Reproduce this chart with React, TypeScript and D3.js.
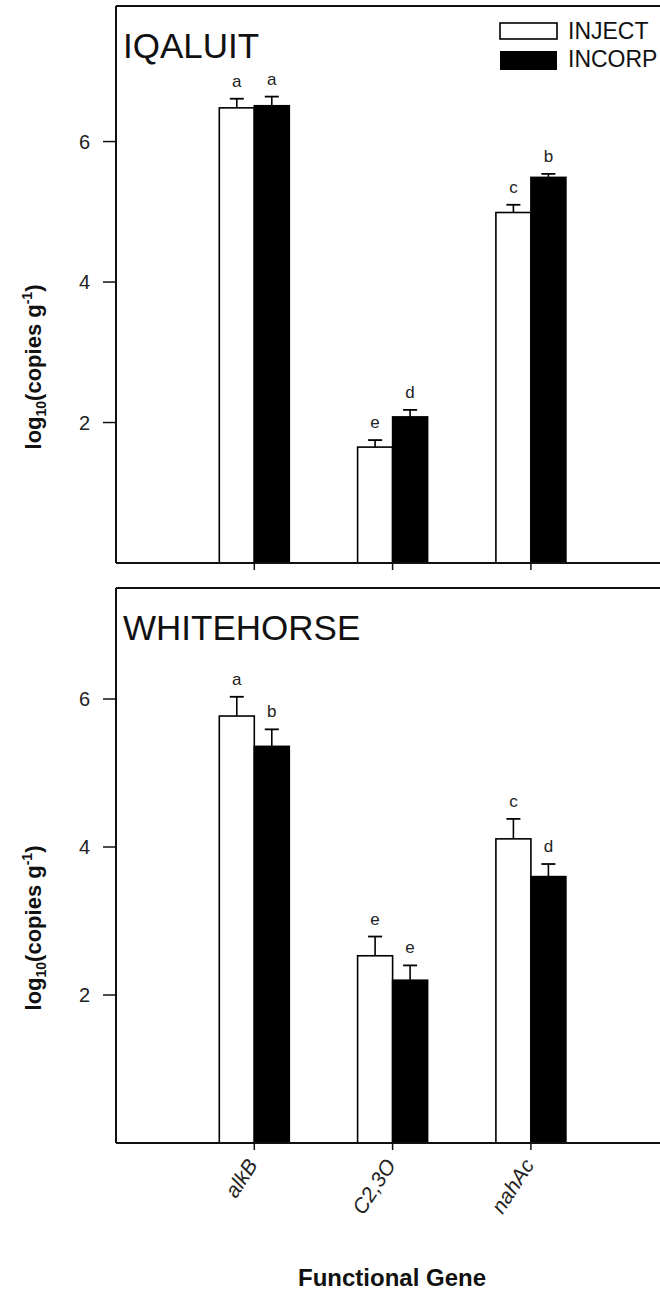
import React from "react";
import * as d3 from "d3";

// Functional genes on the x axis and the two treatments
const genes = ["alkB", "C2,3O", "nahAc"];
const treatments = ["INJECT", "INCORP"];
const yTicks = [2, 4, 6];

// IQALUIT site: log10(copies g-1), upper error and significance letters
const iqaluitInject = [6.48, 1.65, 4.99];
const iqaluitInjectErr = [0.13, 0.1, 0.11];
const iqaluitIncorp = [6.51, 2.08, 5.49];
const iqaluitIncorpErr = [0.13, 0.1, 0.05];
const iqaluitInjectLetters = ["a", "e", "c"];
const iqaluitIncorpLetters = ["a", "d", "b"];

// WHITEHORSE site
const whitehorseInject = [5.77, 2.53, 4.11];
const whitehorseInjectErr = [0.26, 0.26, 0.27];
const whitehorseIncorp = [5.36, 2.2, 3.6];
const whitehorseIncorpErr = [0.23, 0.2, 0.17];
const whitehorseInjectLetters = ["a", "e", "c"];
const whitehorseIncorpLetters = ["b", "e", "d"];

const FONT = "'Liberation Sans', Arial, Helvetica, sans-serif";
const W = 660;
const H = 1295;
const LEFT = 116;
const STEP = 138.3;
const BAR_W = 35;

const x = d3.scaleLinear().domain([0, 4]).range([LEFT, LEFT + 4 * STEP]);

type PanelProps = {
  title: string;
  top: number;
  bottom: number;
  yMax: number;
  inject: number[];
  injectErr: number[];
  incorp: number[];
  incorpErr: number[];
  injectLetters: string[];
  incorpLetters: string[];
  labelY: number;
  legend?: boolean;
};

function Panel(p: PanelProps) {
  const y = d3.scaleLinear().domain([0, p.yMax]).range([p.bottom, p.top]);
  const right = W + 20;
  const series = [
    { vals: p.inject, errs: p.injectErr, letters: p.injectLetters, fill: "#fff", off: -BAR_W },
    { vals: p.incorp, errs: p.incorpErr, letters: p.incorpLetters, fill: "#000", off: 0 },
  ];
  return (
    <g>
      {/* frame: top and left edges, x axis */}
      <line x1={LEFT} x2={right} y1={p.top} y2={p.top} stroke="#111" strokeWidth={2} />
      <line x1={LEFT} x2={LEFT} y1={p.top} y2={p.bottom} stroke="#111" strokeWidth={2} />
      {/* bars */}
      {series.map((s, si) =>
        s.vals.map((v, i) => {
          const cx = x(i + 1) + s.off;
          const yt = y(v);
          const ye = y(v + s.errs[i]);
          const mid = cx + BAR_W / 2;
          return (
            <g key={`${si}-${i}`}>
              <rect
                x={cx}
                y={yt}
                width={BAR_W}
                height={p.bottom - yt}
                fill={s.fill}
                stroke="#000"
                strokeWidth={1.6}
              />
              <line x1={mid} x2={mid} y1={yt} y2={ye} stroke="#000" strokeWidth={1.6} />
              <line x1={mid - 7} x2={mid + 7} y1={ye} y2={ye} stroke="#000" strokeWidth={1.8} />
              <text
                x={mid}
                y={ye - 12}
                textAnchor="middle"
                fontFamily={FONT}
                fontSize={17}
                fill="#222"
              >
                {s.letters[i]}
              </text>
            </g>
          );
        })
      )}
      <line x1={LEFT} x2={right} y1={p.bottom} y2={p.bottom} stroke="#111" strokeWidth={2} />
      {/* x ticks */}
      {genes.map((g, i) => (
        <line key={g} x1={x(i + 1)} x2={x(i + 1)} y1={p.bottom} y2={p.bottom + 7} stroke="#111" strokeWidth={1.5} />
      ))}
      {/* y ticks */}
      {yTicks.map((t) => (
        <g key={t}>
          <line x1={LEFT - 13} x2={LEFT} y1={y(t)} y2={y(t)} stroke="#111" strokeWidth={1.5} />
          <text
            x={LEFT - 26}
            y={y(t) + 7}
            textAnchor="end"
            fontFamily={FONT}
            fontSize={20}
            fill="#222"
          >
            {t}
          </text>
        </g>
      ))}
      {/* y axis title */}
      <text
        transform={`translate(41,${p.labelY}) rotate(-90)`}
        textAnchor="middle"
        fontFamily={FONT}
        fontSize={22}
        fontWeight="bold"
        fill="#111"
      >
        log
        <tspan fontSize={14} dy={5}>10</tspan>
        <tspan dy={-5}>(copies g</tspan>
        <tspan fontSize={14} dy={-9}>-1</tspan>
        <tspan dy={9}>)</tspan>
      </text>
      {/* site name */}
      <text x={LEFT + 7} y={p.top + 52} fontFamily={FONT} fontSize={35} fill="#111">
        {p.title}
      </text>
      {p.legend && (
        <g fontFamily={FONT} fontSize={23} fill="#111">
          <rect x={500} y={23} width={57} height={16} fill="#fff" stroke="#000" strokeWidth={1.6} />
          <rect x={500} y={51} width={57} height={19} fill="#000" />
          <text x={568} y={39}>{treatments[0]}</text>
          <text x={568} y={67}>{treatments[1]}</text>
        </g>
      )}
    </g>
  );
}

export default function App() {
  const bottomAxis = 1143;
  return (
    <div style={{ position: "absolute", left: 0, top: 0 }}>
      <svg width={W} height={H} viewBox={`0 0 ${W} ${H}`} style={{ display: "block", background: "#fff" }}>
        <Panel
          title="IQALUIT"
          top={6}
          bottom={563}
          yMax={7.93}
          inject={iqaluitInject}
          injectErr={iqaluitInjectErr}
          incorp={iqaluitIncorp}
          incorpErr={iqaluitIncorpErr}
          injectLetters={iqaluitInjectLetters}
          incorpLetters={iqaluitIncorpLetters}
          labelY={367}
          legend
        />
        <Panel
          title="WHITEHORSE"
          top={588}
          bottom={bottomAxis}
          yMax={7.5}
          inject={whitehorseInject}
          injectErr={whitehorseInjectErr}
          incorp={whitehorseIncorp}
          incorpErr={whitehorseIncorpErr}
          injectLetters={whitehorseInjectLetters}
          incorpLetters={whitehorseIncorpLetters}
          labelY={928}
        />
        {/* gene names under the lower panel */}
        {genes.map((g, i) => (
          <text
            key={g}
            transform={`translate(${x(i + 1) + 4},${bottomAxis + 22}) rotate(-57)`}
            textAnchor="end"
            fontFamily={FONT}
            fontSize={21}
            fontStyle="italic"
            fill="#222"
          >
            {g}
          </text>
        ))}
        <text
          x={392}
          y={1286}
          textAnchor="middle"
          fontFamily={FONT}
          fontSize={24}
          fontWeight="bold"
          fill="#111"
        >
          Functional Gene
        </text>
      </svg>
    </div>
  );
}
